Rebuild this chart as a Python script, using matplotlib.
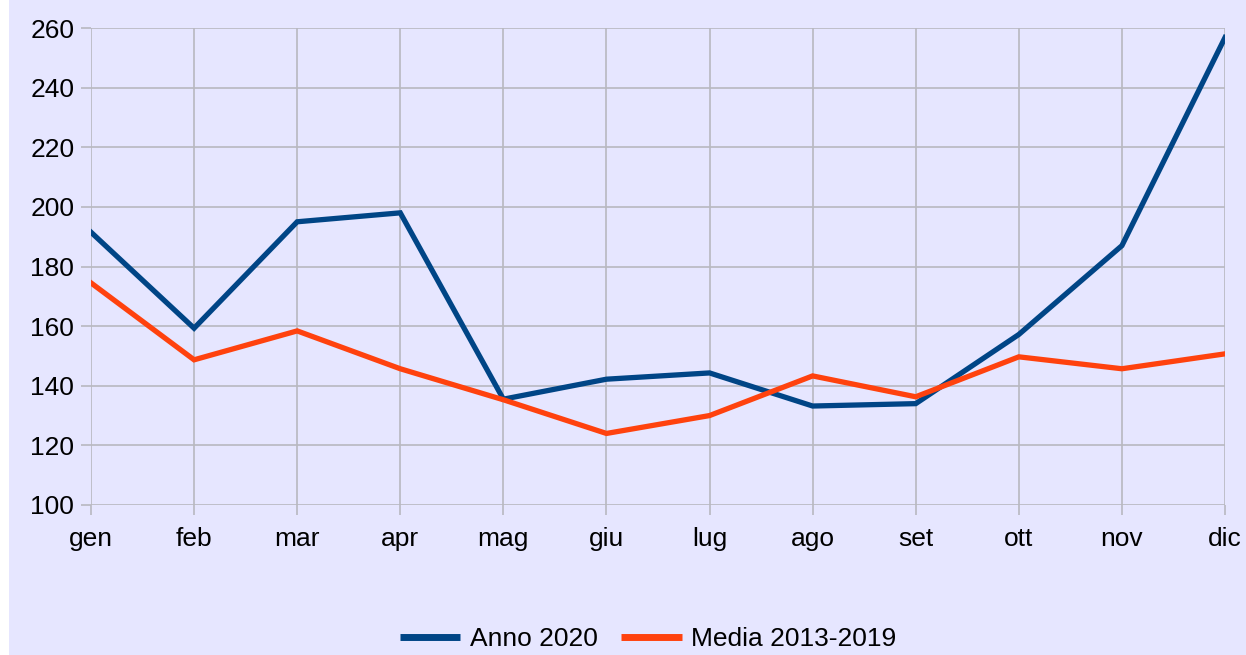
import matplotlib.pyplot as plt
from matplotlib.patches import Rectangle

# monthly data
months = ["gen", "feb", "mar", "apr", "mag", "giu", "lug", "ago", "set", "ott", "nov", "dic"]
anno_2020 = [191.5, 159.3, 195, 198, 135.5, 142.2, 144.3, 133.2, 134, 157.2, 187, 256.8]
media_2013_2019 = [174.5, 148.7, 158.4, 145.7, 135.3, 124, 130, 143.3, 136.3, 149.7, 145.7, 150.7]
yticks = [100, 120, 140, 160, 180, 200, 220, 240, 260]

bg = "#e6e6ff"
blue = "#004586"
orange = "#ff420e"
grid = "#b8b8c0"

plt.rcParams["font.family"] = ["Liberation Sans", "DejaVu Sans"]

W, H = 1246, 655
fig = plt.figure(figsize=(W / 100, H / 100), dpi=100)
fig.patch.set_facecolor("white")
# lavender background, white strip on the left edge
fig.patches.append(Rectangle((9 / W, 0), 1, 1, transform=fig.transFigure,
                             facecolor=bg, edgecolor="none", zorder=-10))

ax = fig.add_axes([91 / W, 1 - 505 / H, (1225 - 91) / W, (505 - 28) / H])
ax.set_facecolor(bg)

x = list(range(len(months)))
ax.plot(x, anno_2020, color=blue, lw=3.8, label="Anno 2020", solid_joinstyle="miter", zorder=3)
ax.plot(x, media_2013_2019, color=orange, lw=3.8, label="Media 2013-2019", solid_joinstyle="miter", zorder=3)

ax.set_xlim(0, len(months) - 1)
ax.set_ylim(100, 260)
ax.set_xticks(x)
ax.set_xticklabels(months)
ax.set_yticks(yticks)

for s in ax.spines.values():
    s.set_visible(False)
ax.grid(True, color=grid, lw=1.2, zorder=0)
ax.set_axisbelow(True)
ax.tick_params(axis="both", labelsize=19, color=grid, width=1.2, length=7, colors="black")
ax.tick_params(axis="y", pad=5)
ax.tick_params(axis="x", pad=9)
for t in ax.get_xticklines() + ax.get_yticklines():
    t.set_color(grid)

leg = fig.legend(loc="center", bbox_to_anchor=(648 / W, 1 - 639 / H), ncol=2,
                 frameon=False, fontsize=19, handlelength=2.3, handletextpad=0.35,
                 columnspacing=0.9)
for line in leg.get_lines():
    line.set_linewidth(5)
    line.set_solid_capstyle("butt")

fig.savefig("out.png", dpi=100, facecolor=fig.get_facecolor())
